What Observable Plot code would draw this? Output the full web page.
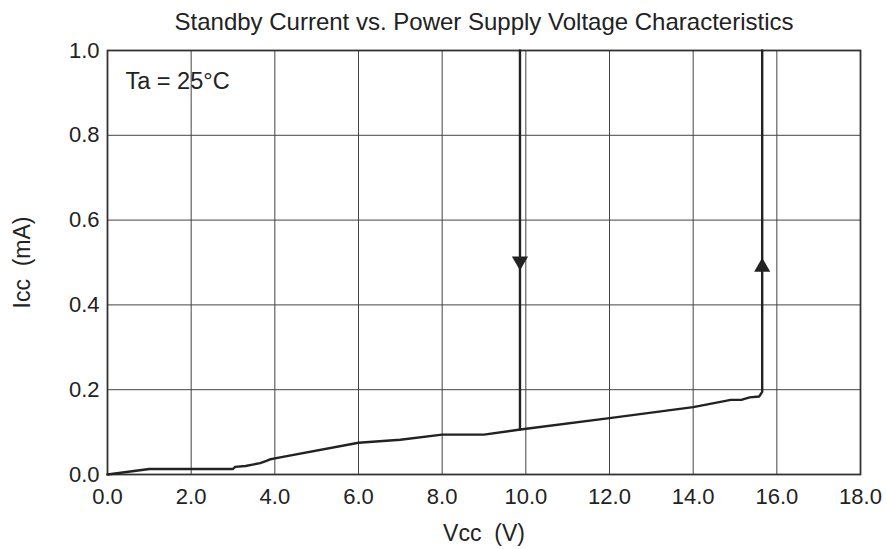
<!DOCTYPE html>
<html>
<head>
<meta charset="utf-8">
<script src="https://cdn.jsdelivr.net/npm/d3@7"></script>
<script src="https://cdn.jsdelivr.net/npm/@observablehq/plot@0.6"></script>
<style>
  html, body { margin: 0; padding: 0; background: #fff; }
  #chart svg { display: block; }
</style>
</head>
<body>
<div id="chart"></div>
<script>
// ---- data ----
const titleText = "Standby Current vs. Power Supply Voltage Characteristics";
const xLabel = "Vcc \u00a0(V)";
const yLabel = "Icc \u00a0(mA)";
const noteText = "Ta = 25°C";

const xTicks = [0, 2, 4, 6, 8, 10, 12, 14, 16, 18];
const yTicks = [0, 0.2, 0.4, 0.6, 0.8, 1.0];

// rising branch: Vcc (V) and Icc (mA)
const riseVcc = [0, 1.0, 3.0, 3.05, 3.3, 3.5, 3.65, 3.8, 3.9, 4.0, 6.0, 7.0, 8.0, 9.0, 9.87, 12.0, 14.0, 14.9, 15.15, 15.35, 15.58, 15.65, 15.65];
const riseIcc = [0, 0.013, 0.013, 0.018, 0.020, 0.024, 0.027, 0.032, 0.036, 0.038, 0.075, 0.082, 0.094, 0.094, 0.106, 0.133, 0.159, 0.176, 0.176, 0.182, 0.184, 0.195, 1.0];

// falling branch
const fallVcc = [9.86, 9.86];
const fallIcc = [1.0, 0.106];

// direction arrows
const arrowVcc = [15.65, 9.86];
const arrowIcc = [0.489, 0.503];
const arrowRotate = [0, 180];

const rise = riseVcc.map((v, i) => ({v, i: riseIcc[i]}));
const fall = fallVcc.map((v, i) => ({v, i: fallIcc[i]}));
const arrows = arrowVcc.map((v, k) => ({v, i: arrowIcc[k], r: arrowRotate[k]}));

const FONT = "'Liberation Sans', Arial, Helvetica, sans-serif";
const INK = "#222";

const chart = Plot.plot({
  width: 887,
  height: 549,
  marginTop: 50,
  marginLeft: 107,
  marginRight: 27,
  marginBottom: 75,
  style: {fontFamily: FONT, fontSize: "22px", color: INK, background: "#fff"},
  x: {domain: [0, 18], ticks: xTicks, tickFormat: d => d.toFixed(1), tickSize: 0, tickPadding: 14, label: null},
  y: {domain: [0, 1], ticks: yTicks, tickFormat: d => d.toFixed(1), tickSize: 0, tickPadding: 8, label: null},
  marks: [
    Plot.ruleX(xTicks, {stroke: "#444", strokeWidth: 1}),
    Plot.ruleY(yTicks, {stroke: "#444", strokeWidth: 1}),
    Plot.frame({stroke: "#333", strokeWidth: 1.8}),
    Plot.line(rise, {x: "v", y: "i", stroke: INK, strokeWidth: 2.4, strokeLinejoin: "round"}),
    Plot.line(fall, {x: "v", y: "i", stroke: INK, strokeWidth: 2.4}),
    Plot.dot(arrows, {x: "v", y: "i", symbol: "triangle", r: 6, fill: INK, stroke: "none", rotate: "r"}),
    Plot.text([noteText], {text: d => d, frameAnchor: "top-left", textAnchor: "start", lineAnchor: "bottom", dx: 18, dy: 38, fontSize: 23.5, fill: INK}),
    Plot.text([titleText], {text: d => d, frameAnchor: "top", textAnchor: "middle", lineAnchor: "bottom", dy: -21, fontSize: 24, fill: INK}),
    Plot.text([xLabel], {text: d => d, frameAnchor: "bottom", textAnchor: "middle", lineAnchor: "bottom", dy: 66, fontSize: 23, fill: INK}),
    Plot.text([yLabel], {text: d => d, frameAnchor: "left", textAnchor: "middle", lineAnchor: "bottom", rotate: -90, dx: -78, fontSize: 23, fill: INK})
  ]
});
document.getElementById("chart").appendChild(chart);
</script>
</body>
</html>
